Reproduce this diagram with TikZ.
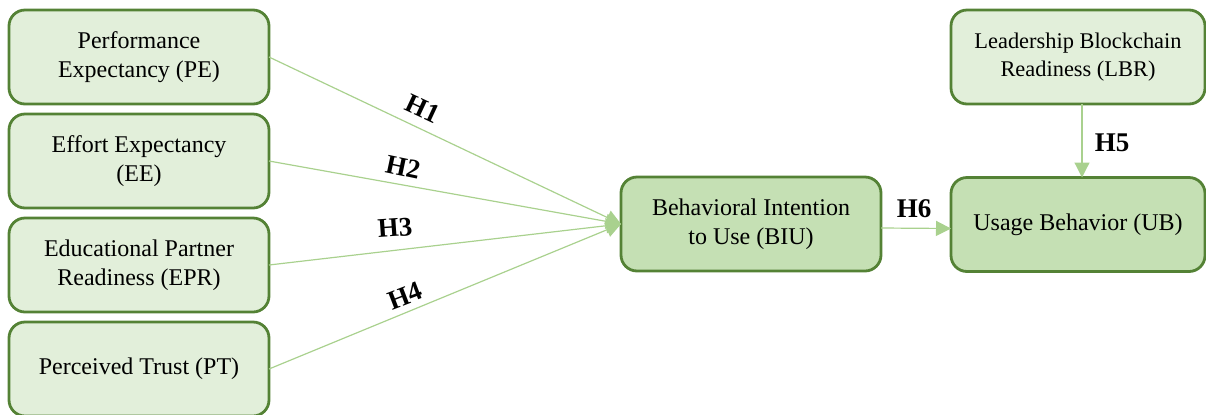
\documentclass[tikz,border=0pt]{standalone}
\usepackage{fontspec}
\setmainfont{Liberation Serif}[UprightFont=*, BoldFont=* Bold, ItalicFont=* Italic]
\newfontfamily\tnr{Liberation Serif}
\usetikzlibrary{arrows.meta}
\definecolor{boxlight}{HTML}{E2EFDA}
\definecolor{boxmid}{HTML}{C5E0B4}
\definecolor{boxline}{HTML}{548235}
\definecolor{arrowgreen}{HTML}{A9D18E}
\tikzset{
  construct/.style={draw=boxline, line width=1.4pt, fill=boxlight, rounded corners=8pt,
    minimum width=130pt, minimum height=47pt, inner sep=0pt, outer sep=0pt,
    align=center, font=\tnr\fontsize{12}{14.5}\selectfont},
  outcome/.style={construct, fill=boxmid},
  link/.style={draw=arrowgreen, line width=0.6pt, -{Triangle[length=7.5pt,width=7.5pt]}},
  hyp/.style={font=\tnr\fontsize{13.5}{15}\selectfont\bfseries, inner sep=0pt}
}
\begin{document}
\begin{tikzpicture}[x=0.5pt, y=-0.5pt]
\useasboundingbox (0,0) rectangle (1206,414);
\node[construct] (pe) at (139,57) {Performance\\Expectancy (PE)};
\node[construct] (ee) at (139,161) {Effort Expectancy\\(EE)};
\node[construct] (epr) at (139,265) {Educational Partner\\Readiness (EPR)};
\node[construct] (pt) at (139,369) {Perceived Trust (PT)};
\node[outcome] (biu) at (751,224) {Behavioral Intention\\to Use (BIU)};
\node[outcome, minimum width=127pt] (ub) at (1078,224.5) {Usage Behavior (UB)};
\node[construct, minimum width=127pt, font=\tnr\fontsize{11.2}{14}\selectfont] (lbr) at (1078,57) {Leadership Blockchain\\Readiness (LBR)};

\draw[link] (pe.east) -- (biu.west);
\draw[link] (ee.east) -- (biu.west);
\draw[link] (epr.east) -- (biu.west);
\draw[link] (pt.east) -- (biu.west);
\draw[link] ([xshift=2pt]lbr.south) -- ([xshift=2pt]ub.north);
\draw[link] ([yshift=-2pt]biu.east) -- ([yshift=-2pt]ub.west);

\node[hyp, rotate=-25] (h1) at (423,109) {H1};
\node[hyp, rotate=-12] (h2) at (403,167) {H2};
\node[hyp, rotate=4] (h3) at (395,228) {H3};
\node[hyp, rotate=21] (h4) at (405,296) {H4};
\node[hyp] (h5) at (1112,143) {H5};
\node[hyp] (h6) at (914,209) {H6};
\end{tikzpicture}
\end{document}
